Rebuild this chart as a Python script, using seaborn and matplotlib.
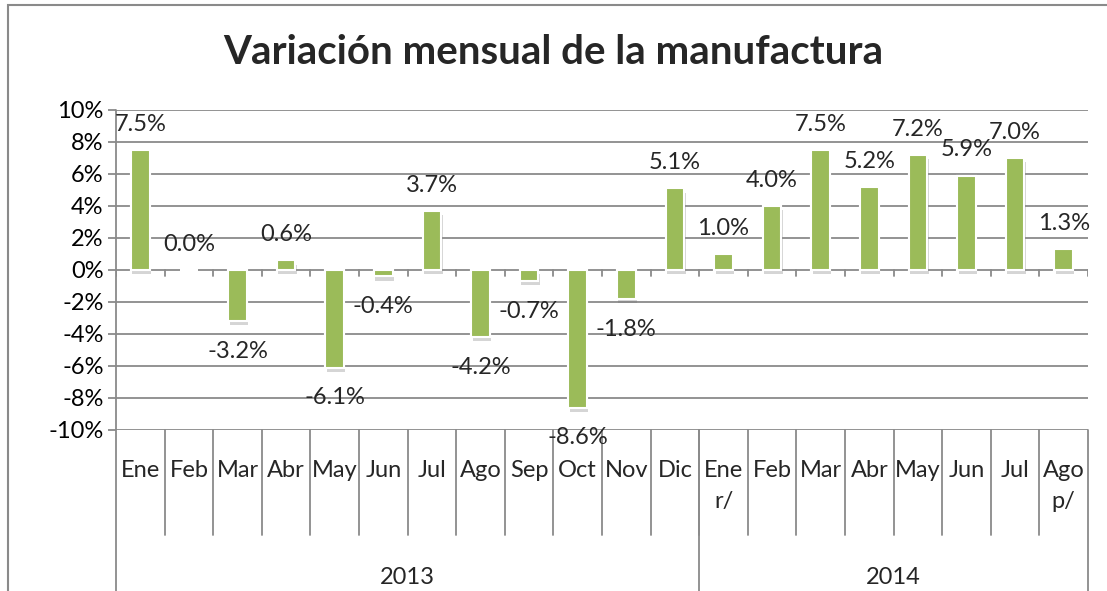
import numpy as np
import pandas as pd
import matplotlib
matplotlib.use('Agg')
import matplotlib.pyplot as plt
import matplotlib.patheffects as pe
from matplotlib.patches import Rectangle
import seaborn as sns

# Data
months = ['Ene', 'Feb', 'Mar', 'Abr', 'May', 'Jun', 'Jul', 'Ago', 'Sep', 'Oct', 'Nov', 'Dic',
          'Ene\nr/', 'Feb', 'Mar', 'Abr', 'May', 'Jun', 'Jul', 'Ago\np/']
years = ['2013', '2014']
months_per_year = [12, 8]
values = [7.5, 0.0, -3.2, 0.6, -6.1, -0.4, 3.7, -4.2, -0.7, -8.6, -1.8, 5.1,
          1.0, 4.0, 7.5, 5.2, 7.2, 5.9, 7.0, 1.3]
yticks = [-10, -8, -6, -4, -2, 0, 2, 4, 6, 8, 10]

df = pd.DataFrame({'pos': np.arange(len(values)), 'value': values})

sns.set_theme(style='white')
plt.rcParams['font.family'] = ['Lato', 'DejaVu Sans']

GRAY = '#8a8a8a'
GREEN = '#9bbb59'
FS = 17

W, H = 1107, 591
fig = plt.figure(figsize=(W / 100, H / 100), dpi=100)
left, right, top, bottom = 116, 1088, 110, 430
ax = fig.add_axes([left / W, 1 - bottom / H, (right - left) / W, (bottom - top) / H])

sns.barplot(data=df, x='pos', y='value', color=GREEN, width=0.38, saturation=1,
            edgecolor='white', linewidth=1.5, ax=ax, zorder=3)
for bar in ax.patches:
    bar.set_path_effects([pe.withSimplePatchShadow(offset=(1, -3), shadow_rgbFace='#777777', alpha=0.3),
                          pe.Normal()])

n = len(values)
ax.set_xlim(-0.5, n - 0.5)
ax.set_ylim(-10, 10)
ax.set_yticks(yticks)
ax.set_yticklabels([f'{t}%' for t in yticks], fontsize=FS, color='black')
ax.set_xticks([])
ax.set_xlabel('')
ax.set_ylabel('')
for t in yticks:
    ax.axhline(t, color=GRAY, lw=1.3, zorder=1)
for s in ax.spines.values():
    s.set_visible(False)
ax.tick_params(axis='y', left=True, length=6, width=1.3, color=GRAY, pad=3)

# small ticks on the zero line
for b in np.arange(-0.5, n, 1.0):
    ax.plot([b, b], [0, -0.4], color=GRAY, lw=1.3, zorder=2)

# data labels
for i, v in enumerate(values):
    off = 1.6 if v >= 0 else -1.9
    ax.text(i, v + off, f'{v:.1f}%', ha='center', va='center', fontsize=FS, zorder=4)

# category axis region below the plot
trans = ax.get_xaxis_transform()
y_month_end = -(535 - bottom) / (bottom - top)
y_fig_end = -(H - bottom) / (bottom - top) - 0.02
ax.plot([-0.5, -0.5], [1, y_fig_end], color=GRAY, lw=1.3, transform=trans, clip_on=False)
for b in np.arange(0.5, n - 0.5, 1.0):
    ax.plot([b, b], [0, y_month_end], color=GRAY, lw=1.3, transform=trans, clip_on=False)
for i, m in enumerate(months):
    ax.text(i, -(460 - bottom) / (bottom - top), m, ha='center', va='top', fontsize=FS,
            linespacing=1.6, transform=trans)
start = 0
for yr, cnt in zip(years, months_per_year):
    end = start + cnt
    ax.plot([end - 0.5, end - 0.5], [0, y_fig_end], color=GRAY, lw=1.3, transform=trans, clip_on=False)
    ax.text((start + end - 1) / 2, -(577 - bottom) / (bottom - top), yr, ha='center', va='center',
            fontsize=FS, transform=trans)
    start = end

fig.text(0.5, 1 - 52 / H, 'Variación mensual de la manufactura', ha='center', va='center',
         fontsize=29, fontweight='bold')

fig.add_artist(Rectangle((8 / W, -0.1), 1.2, 1 - 5 / H + 0.1, transform=fig.transFigure,
                         fill=False, edgecolor=GRAY, lw=1.5))

fig.savefig('out.png', dpi=100)
